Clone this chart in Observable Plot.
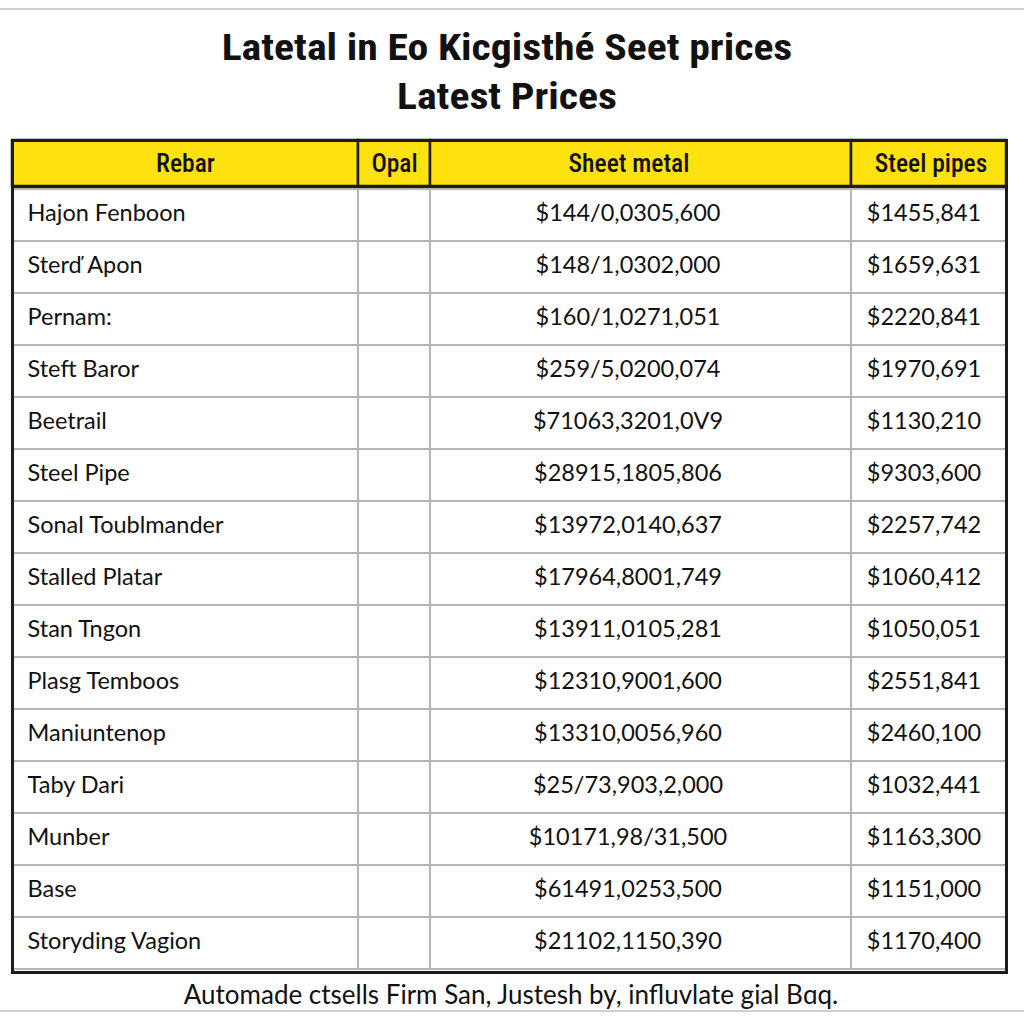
<!DOCTYPE html>
<html>
<head>
<meta charset="utf-8">
<script src="https://cdn.jsdelivr.net/npm/d3@7"></script>
<script src="https://cdn.jsdelivr.net/npm/@observablehq/plot@0.6"></script>
<style>
  html, body { margin: 0; padding: 0; background: #ffffff; }
  #page { position: relative; width: 1024px; height: 1024px; overflow: hidden; background: #fff; }
  .hline { position: absolute; left: 0; width: 1024px; height: 2px; background: #cfcfcf; }
  #title { position: absolute; left: 0; top: 24px; width: 1014px; text-align: center;
    font-family: "Liberation Sans Narrow", "Roboto Condensed", "DejaVu Sans Condensed", sans-serif;
    font-stretch: condensed; font-weight: bold; font-size: 36px; line-height: 49px; color: #111;
    transform: scaleX(1.16); transform-origin: 507px 0; }
  #chart { position: absolute; left: 0; top: 138px; width: 1024px; }
  #chart svg { display: block; background: transparent !important; }
  #footer { position: absolute; left: 0; top: 978px; width: 1022px; text-align: center;
    font-family: Lato, "Open Sans", sans-serif; font-size: 26px; line-height: 32px; color: #111; }
</style>
</head>
<body>
<div id="page">
  <div class="hline" style="top:8px"></div>
  <div id="title"><div>Latetal in Eo Kicgisthé Seet prices</div><div>Latest Prices</div></div>
  <div id="chart"></div>
  <div id="footer">Automade ctsells Firm San, Justesh by, influvlate gial Bɑq.</div>
  <div class="hline" style="top:1010px"></div>
</div>
<script>
// ---- data ----
const columns = ["Rebar", "Opal", "Sheet metal", "Steel pipes"];
const items = [
  "Hajon Fenboon", "Sterď Apon", "Pernam:", "Steft Baror", "Beetrail",
  "Steel Pipe", "Sonal Toublmander", "Stalled Platar", "Stan Tngon", "Plasg Temboos",
  "Maniuntenop", "Taby Dari", "Munber", "Base", "Storyding Vagion"
];
const opal = ["", "", "", "", "", "", "", "", "", "", "", "", "", "", ""];
const sheetMetal = [
  "$144/0,0305,600", "$148/1,0302,000", "$160/1,0271,051", "$259/5,0200,074", "$71063,3201,0V9",
  "$28915,1805,806", "$13972,0140,637", "$17964,8001,749", "$13911,0105,281", "$12310,9001,600",
  "$13310,0056,960", "$25/73,903,2,000", "$10171,98/31,500", "$61491,0253,500", "$21102,1150,390"
];
const steelPipes = [
  "$1455,841", "$1659,631", "$2220,841", "$1970,691", "$1130,210",
  "$9303,600", "$2257,742", "$1060,412", "$1050,051", "$2551,841",
  "$2460,100", "$1032,441", "$1163,300", "$1151,000", "$1170,400"
];

// ---- layout / style ----
const colWidths = [346, 72, 421, 155];
const colShift = [0, 0, -13, -5];
const headShift = [0, 0, -12, 2];
const edges = [0, ...d3.cumsum(colWidths)];
const total = edges[edges.length - 1];
const W = 1024, mL = 12, mR = W - 12 - total;
const headerFont = '"Liberation Sans Narrow", "Roboto Condensed", "DejaVu Sans Condensed", sans-serif';
const bodyFont = 'Lato, "Open Sans", sans-serif';
const yellow = "#fee20f", dark = "#1c1c1c", grid = "#b5b5b5";

const headerCells = columns.map((name, i) => ({name, col: i, row: 0, x1: edges[i], x2: edges[i + 1]}));
const colValues = [items, opal, sheetMetal, steelPipes];
const bodyCells = [];
items.forEach((_, r) => {
  columns.forEach((_, c) => {
    bodyCells.push({row: r, col: c, x1: edges[c], x2: edges[c + 1], text: colValues[c][r]});
  });
});

const headerPlot = Plot.plot({
  width: W, height: 50,
  marginTop: 2, marginBottom: 2, marginLeft: mL, marginRight: mR,
  style: {background: "transparent", overflow: "visible"},
  x: {domain: [0, total], axis: null},
  y: {type: "band", domain: [0], padding: 0, axis: null},
  marks: [
    Plot.barX(headerCells, {x1: "x1", x2: "x2", y: "row", fill: yellow, stroke: dark, strokeWidth: 2.5}),
    Plot.frame({stroke: dark, strokeWidth: 3}),
    Plot.text(headerCells, {
      x: d => (d.x1 + d.x2) / 2 + headShift[d.col], y: "row", text: "name",
      fontFamily: headerFont, fontSize: 25.5, fill: "#111", fontWeight: 500
    })
  ]
});

const bodyPlot = Plot.plot({
  width: W, height: 790,
  marginTop: 2, marginBottom: 2, marginLeft: mL, marginRight: mR,
  style: {background: "transparent", overflow: "visible"},
  x: {domain: [0, total], axis: null},
  y: {type: "band", domain: d3.range(items.length), padding: 0, axis: null},
  marks: [
    Plot.barX(bodyCells, {x1: "x1", x2: "x2", y: "row", fill: "white", stroke: grid, strokeWidth: 2}),
    Plot.frame({stroke: dark, strokeWidth: 3}),
    Plot.text(bodyCells.filter(d => d.col === 0), {
      x: "x1", y: "row", text: "text", textAnchor: "start", dx: 15, dy: -2,
      fontFamily: bodyFont, fontSize: 23.5, fill: "#111"
    }),
    Plot.text(bodyCells.filter(d => d.col > 0), {
      x: d => (d.x1 + d.x2) / 2 + colShift[d.col], y: "row", text: "text", dy: -2,
      fontFamily: bodyFont, fontSize: 23.5, fill: "#111"
    })
  ]
});
bodyPlot.style.marginTop = "-4px";

const chart = document.getElementById("chart");
chart.appendChild(headerPlot);
chart.appendChild(bodyPlot);
</script>
</body>
</html>
